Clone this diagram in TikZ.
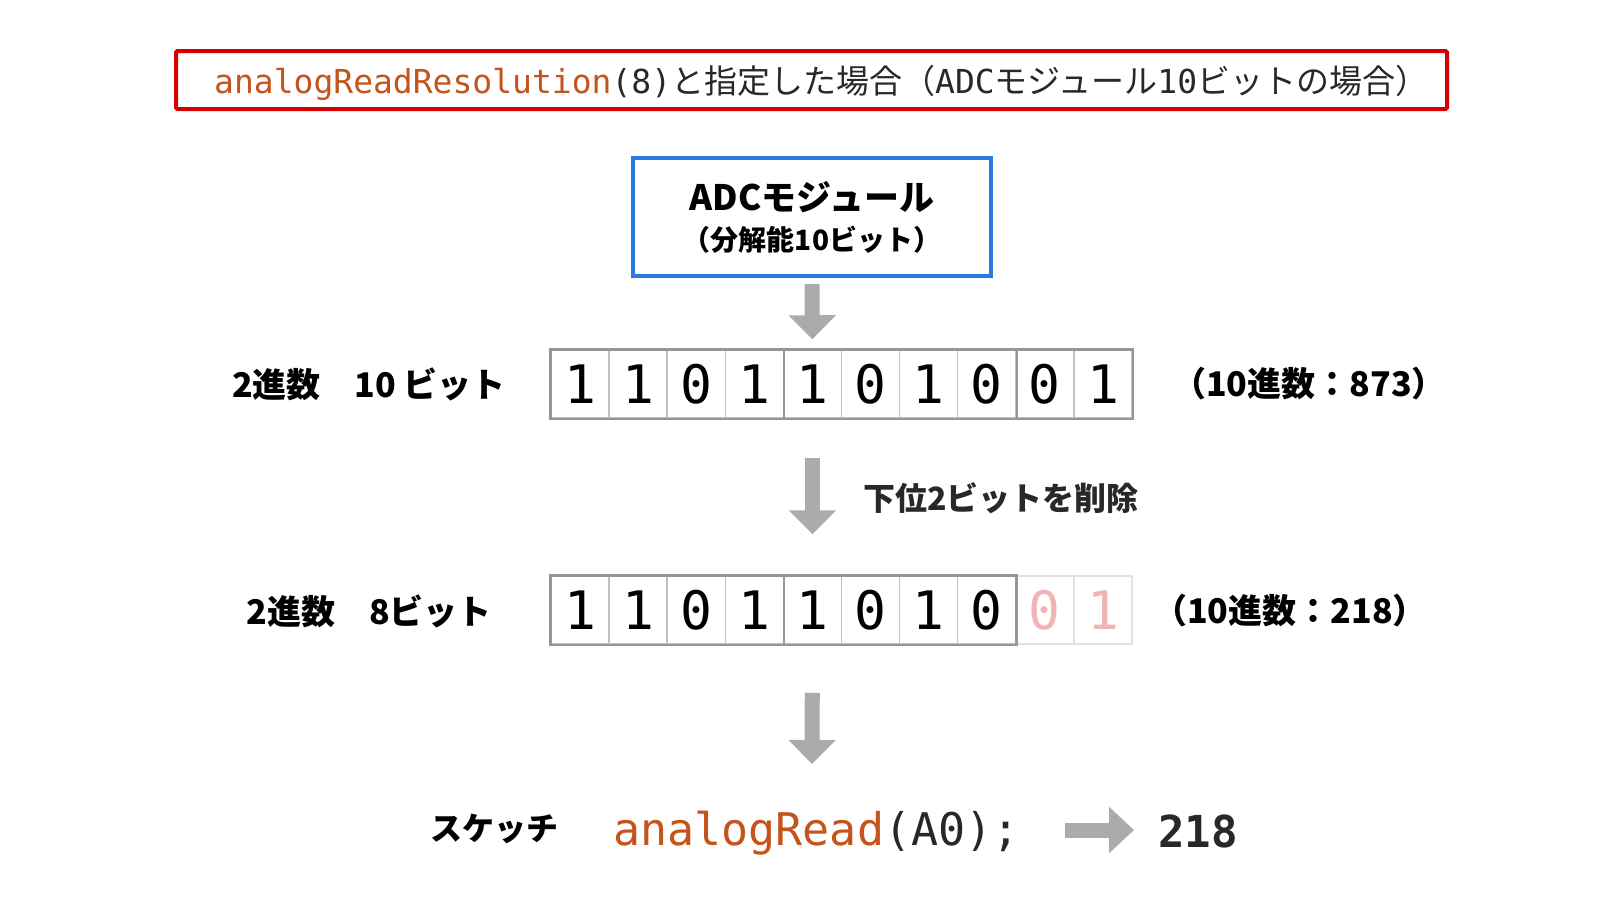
\documentclass[tikz,border=0pt]{standalone}
\usepackage{fontspec}
\usetikzlibrary{arrows.meta}
\newfontfamily\jp{Noto Sans CJK JP}
\newfontfamily\mono{DejaVu Sans Mono}
\definecolor{codeor}{RGB}{196,84,28}
\definecolor{txtdark}{RGB}{40,40,40}
\definecolor{redbox}{RGB}{214,0,0}
\definecolor{bluebox}{RGB}{40,122,222}
\definecolor{arrowgray}{RGB}{171,171,171}
\definecolor{cellin}{RGB}{192,192,192}
\definecolor{cellout}{RGB}{150,150,150}
\definecolor{cellfaint}{RGB}{226,226,226}
\definecolor{pinkdig}{RGB}{240,180,180}
\tikzset{
  bigarrow/.style={draw=arrowgray, line width=15pt,
    -{Triangle[width=46pt,length=24pt]}, arrowgray},
  cell/.style={draw=cellin, line width=1.5pt, minimum width=58.1pt,
    minimum height=68pt, inner sep=0pt, font=\mono\fontsize{53}{53}\selectfont},
  fcell/.style={cell, draw=cellfaint, text=pinkdig},
  lbl/.style={inner sep=0pt, font=\jp\bfseries\fontsize{34}{36}\selectfont, text=black},
}
\begin{document}
\begin{tikzpicture}[x=1pt,y=-1pt]
\useasboundingbox (0,0) rectangle (1624,914);
% title
\node[draw=redbox, line width=4pt, rounded corners=1.5pt, minimum width=1271pt,
  minimum height=58pt, inner sep=0pt] (title) at (811.5,80) {};
\node[anchor=base west, inner sep=0pt, text=txtdark] (titletext) at (214,93)
  {\fontsize{33}{40}\selectfont{\mono\fontsize{33}{40}\selectfont\textcolor{codeor}{analogReadResolution}(8)}{\jp と指定した場合（}{\mono\fontsize{33}{40}\selectfont ADC}{\jp モジュール}{\mono\fontsize{33}{40}\selectfont 10}{\jp ビットの場合）}};
% ADC box
\node[draw=bluebox, line width=4pt, minimum width=358pt, minimum height=118pt,
  inner sep=0pt, fill=white] (adc) at (812,217) {};
\node[lbl, font=\jp\bfseries\fontsize{35}{36}\selectfont] (adc1) at (812,197) {ADCモジュール};
\node[lbl, font=\jp\bfseries\fontsize{28}{30}\selectfont] (adc2) at (812,240) {（分解能10ビット）};
% row 1
\foreach \b [count=\i] in {1,1,0,1,1,0,1,0,0,1} {
  \node[cell] (a\i) at ({551+(\i-0.5)*58.1},384) {\b};
}
\draw[cellout, line width=2.5pt] (a1.north west) rectangle (a10.south east);
\draw[cellout, line width=2pt] (a4.north east) -- (a4.south east);
\draw[cellout, line width=2pt] (a8.north east) -- (a8.south east);
\node[lbl] (l1) at (369,384) {2進数　10 ビット};
\node[lbl] (r1) at (1309,384) {（10進数：873）};
% row 2
\foreach \b [count=\i] in {1,1,0,1,1,0,1,0} {
  \node[cell] (b\i) at ({551+(\i-0.5)*58.1},610) {\b};
}
\foreach \b [count=\i from 9] in {0,1} {
  \node[fcell] (b\i) at ({551+(\i-0.5)*58.1},610) {\b};
}
\draw[cellout, line width=2.5pt] (b1.north west) rectangle (b8.south east);
\draw[cellout, line width=2pt] (b4.north east) -- (b4.south east);
\node[lbl] (l2) at (369,611) {2進数　8ビット};
\node[lbl] (r2) at (1290,611) {（10進数：218）};
% arrows
\draw[bigarrow, shorten <=6pt, shorten >=10pt] (adc.south) -- (a5.north);
\draw[bigarrow, shorten <=39pt, shorten >=41pt] (a5.south) -- (b5.north);
\node[lbl, anchor=west, font=\jp\bfseries\fontsize{32}{36}\selectfont, text=txtdark] (del) at (863,498) {下位2ビットを削除};
\coordinate (d3e) at (812,764);
\draw[bigarrow, shorten <=48pt] (b5.south) -- (d3e);
% bottom
\node[lbl, font=\jp\bfseries\fontsize{32}{36}\selectfont] (sk) at (494.5,829) {スケッチ};
\node[anchor=base west, inner sep=0pt, text=txtdark, font=\mono\fontsize{45}{48}\selectfont] (code) at (613,845) {\textcolor{codeor}{analogRead}(A0);};
\node[anchor=base west, inner sep=0pt, text=txtdark, font=\mono\bfseries\fontsize{44}{48}\selectfont] (res) at (1158,847) {218};
\coordinate (ra1) at (1065,830);
\coordinate (ra2) at (1134,830);
\draw[bigarrow, -{Triangle[width=45pt,length=25pt]}] (ra1) -- (ra2);
\end{tikzpicture}
\end{document}
